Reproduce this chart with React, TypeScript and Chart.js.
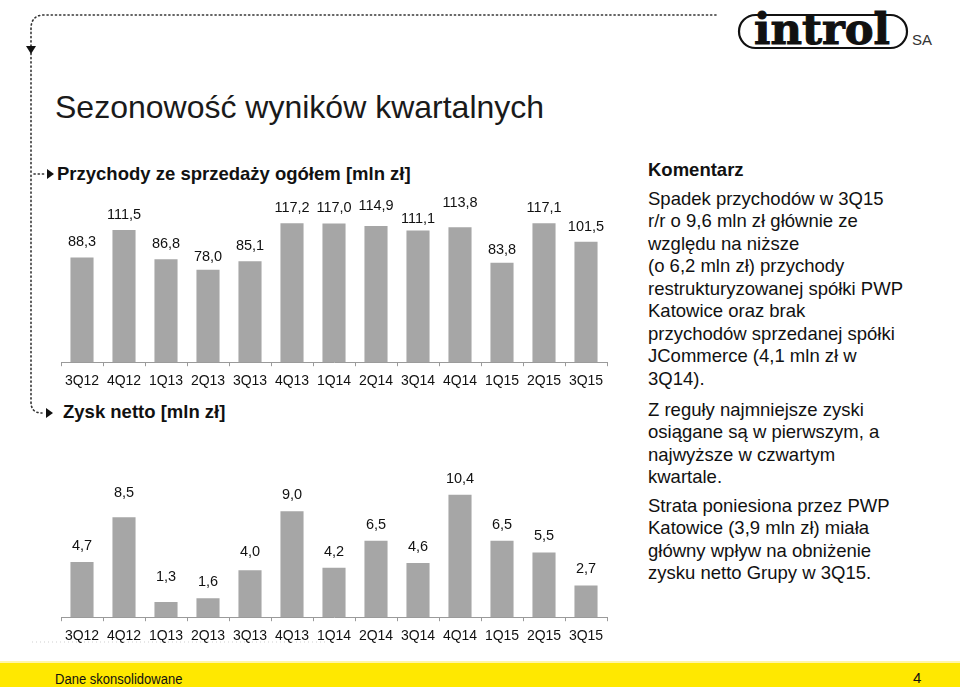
import React, { useEffect, useRef } from "react";
import { Chart, registerables } from "chart.js";

Chart.register(...registerables);

const categories = ["3Q12", "4Q12", "1Q13", "2Q13", "3Q13", "4Q13", "1Q14", "2Q14", "3Q14", "4Q14", "1Q15", "2Q15", "3Q15"];
const revenue = [88.3, 111.5, 86.8, 78.0, 85.1, 117.2, 117.0, 114.9, 111.1, 113.8, 83.8, 117.1, 101.5];
const netProfit = [4.7, 8.5, 1.3, 1.6, 4.0, 9.0, 4.2, 6.5, 4.6, 10.4, 6.5, 5.5, 2.7];

// label placement tweaks (px, upward), as in the original slide
const revenueLabelNudge = [0, 0, 0, -2, 0, 0, 0, 5, -4, 9, -2, 0, 0];
const profitLabelNudge = [0, 8, 9, 0, 2, 0, 0, 0, 0, 0, 0, 0, 0];

const FONT = '"Liberation Sans", Arial, Helvetica, sans-serif';
const BAR = "#a6a6a6";

const valueLabels = {
  id: "valueLabels",
  afterDatasetsDraw(chart: any) {
    const opts = chart.options.plugins.valueLabels || {};
    const base = opts.offset ?? 15;
    const nudge: number[] = opts.nudge || [];
    const ctx = chart.ctx;
    ctx.save();
    ctx.font = `14.5px ${FONT}`;
    ctx.fillStyle = "#111";
    ctx.textAlign = "center";
    ctx.textBaseline = "middle";
    chart.data.datasets.forEach((ds: any, di: number) => {
      const meta = chart.getDatasetMeta(di);
      meta.data.forEach((el: any, i: number) => {
        const v = ds.data[i] as number;
        const txt = v.toFixed(1).replace(".", ",");
        ctx.fillText(txt, el.x, el.y - base - (nudge[i] || 0));
      });
    });
    ctx.restore();
  },
};

function BarChart(props: {
  data: number[];
  max: number;
  padTop: number;
  width: number;
  height: number;
  nudge: number[];
  offset: number;
}) {
  const ref = useRef<HTMLCanvasElement | null>(null);
  useEffect(() => {
    if (!ref.current) return;
    const chart = new Chart(ref.current, {
      type: "bar",
      data: {
        labels: categories,
        datasets: [
          {
            data: props.data,
            backgroundColor: BAR,
            borderWidth: 0,
            barPercentage: 0.55,
            categoryPercentage: 1,
          },
        ],
      },
      options: {
        animation: false,
        responsive: false,
        maintainAspectRatio: false,
        events: [],
        layout: { padding: { left: 11, right: 13, top: props.padTop, bottom: 0 } },
        plugins: {
          legend: { display: false },
          tooltip: { enabled: false },
          valueLabels: { nudge: props.nudge, offset: props.offset },
        } as any,
        scales: {
          x: {
            offset: true,
            grid: {
              offset: true,
              drawOnChartArea: false,
              drawTicks: true,
              tickLength: 4,
              color: "#9a9a9a",
            },
            border: { display: true, color: "#9a9a9a", width: 1 },
            ticks: {
              padding: 7,
              color: "#111",
              font: { family: FONT, size: 14 },
              maxRotation: 0,
              autoSkip: false,
            },
          },
          y: {
            display: false,
            min: 0,
            max: props.max,
          },
        },
      },
      plugins: [valueLabels],
    });
    return () => chart.destroy();
  }, []);
  return <canvas ref={ref} width={props.width} height={props.height} style={{ width: props.width, height: props.height, display: "block" }} />;
}

const abs = (left: number, top: number, extra: React.CSSProperties = {}): React.CSSProperties => ({
  position: "absolute",
  left,
  top,
  whiteSpace: "nowrap",
  ...extra,
});

const commentLines1 = [
  "Spadek przychodów w 3Q15",
  "r/r o 9,6 mln zł głównie ze",
  "względu na niższe",
  "(o 6,2 mln zł) przychody",
  "restrukturyzowanej spółki PWP",
  "Katowice oraz brak",
  "przychodów sprzedanej spółki",
  "JCommerce (4,1 mln zł w",
  "3Q14).",
];
const commentLines2 = ["Z reguły najmniejsze zyski", "osiągane są w pierwszym, a", "najwyższe w czwartym", "kwartale."];
const commentLines3 = ["Strata poniesiona przez PWP", "Katowice (3,9 mln zł) miała", "główny wpływ na obniżenie", "zysku netto Grupy w 3Q15."];

function Lines({ lines, left, top }: { lines: string[]; left: number; top: number }) {
  return (
    <div style={abs(left, top, { fontSize: 18.5, lineHeight: "22.5px", color: "#111" })}>
      {lines.map((l, i) => (
        <div key={i}>{l}</div>
      ))}
    </div>
  );
}

export default function App() {
  const dots = { stroke: "#333", strokeWidth: 1.6, strokeDasharray: "1.2 3", fill: "none", strokeLinecap: "round" as const };
  return (
    <div
      style={{
        position: "absolute",
        left: 0,
        top: 0,
        width: 960,
        height: 687,
        overflow: "hidden",
        background: "#fff",
        fontFamily: FONT,
      }}
    >
      <svg width={960} height={687} style={{ position: "absolute", left: 0, top: 0 }}>
        {/* dotted frame */}
        <path d="M 716 15 H 44 Q 31 15 31 29 V 402 Q 31 413 42 413" {...dots} />
        <polygon points="26,46 36,46 31,54" fill="#111" />
        <path d="M 34 174 H 46" {...dots} />
        <polygon points="47,169 54,174 47,179" fill="#111" />
        <polygon points="46,408 53,413 46,418" fill="#111" />
        <path d="M 32 642 H 325" stroke="#cfcfcf" strokeWidth={1} strokeDasharray="1 3" fill="none" />
        {/* logo */}
        <rect x={739} y={15} width={168} height={33} rx={16.5} ry={16.5} fill="none" stroke="#111" strokeWidth={2.2} />
        <text
          x={754}
          y={44}
          fontFamily='"DejaVu Serif", "Liberation Serif", serif'
          fontWeight="bold"
          fontSize={42}
          textLength={136}
          lengthAdjust="spacingAndGlyphs"
          fill="#111"
          stroke="#111"
          strokeWidth={1}
        >
          introl
        </text>
        <text x={912} y={45} fontFamily={FONT} fontSize={15} fill="#333">
          SA
        </text>
        {/* footer */}
        <rect x={0} y={663} width={960} height={24} fill="#ffe800" />
        <rect x={0} y={661} width={960} height={2} fill="#fff6a8" />
      </svg>

      <div style={abs(55, 88, { fontSize: 32, lineHeight: "38px", color: "#1a1a1a" })}>Sezonowość wyników kwartalnych</div>

      <div style={abs(57, 163, { fontSize: 18.5, lineHeight: "22px", fontWeight: "bold", color: "#111" })}>
        Przychody ze sprzedaży ogółem [mln zł]
      </div>
      <div style={abs(63, 401, { fontSize: 18.5, lineHeight: "22px", fontWeight: "bold", color: "#111" })}>Zysk netto [mln zł]</div>

      <div style={abs(50, 190)}>
        <BarChart data={revenue} max={130} padTop={18} width={570} height={207} nudge={revenueLabelNudge} offset={15} />
      </div>
      <div style={abs(50, 460)}>
        <BarChart data={netProfit} max={12} padTop={16} width={570} height={192} nudge={profitLabelNudge} offset={16} />
      </div>

      <div style={abs(648, 159, { fontSize: 18.5, lineHeight: "22px", fontWeight: "bold", color: "#111" })}>Komentarz</div>
      <Lines lines={commentLines1} left={648} top={187.75} />
      <Lines lines={commentLines2} left={648} top={398.75} />
      <Lines lines={commentLines3} left={648} top={494.75} />

      <div style={abs(55, 669, { fontSize: 14, lineHeight: "20px", color: "#111", transform: "scaleX(0.93)", transformOrigin: "left center" })}>
        Dane skonsolidowane
      </div>
      <div style={abs(913, 668, { fontSize: 15, lineHeight: "20px", color: "#111" })}>4</div>
    </div>
  );
}
